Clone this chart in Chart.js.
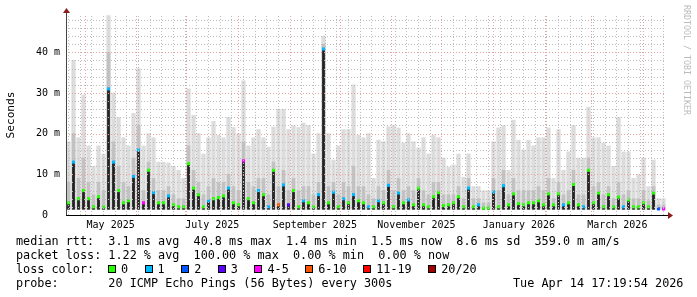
<!DOCTYPE html>
<html>
<head>
<meta charset="utf-8">
<script src="https://cdn.jsdelivr.net/npm/chart.js@4.4.1/dist/chart.umd.min.js"></script>
<style>
body { margin: 0; background: #fff; }
#wrap { position: relative; width: 697px; height: 297px; }
.leg { position: absolute; left: 16px; font-family: 'DejaVu Sans Mono', monospace; font-size: 11.8px; line-height: 14px; white-space: pre; color: #000; }
#lossRow { position: absolute; left: 108px; top: 262px; display: flex; align-items: center; height: 14px;
  font-family: 'DejaVu Sans Mono', monospace; font-size: 11.8px; white-space: pre; color: #000; }
#lossRow .box { width: 6px; height: 6px; border: 1px solid #000; margin-right: 5px; }
#lossRow .lab { margin-right: 16.5px; }
#mark { position: absolute; left: 682px; top: 5px; writing-mode: vertical-rl; font-family: 'DejaVu Sans Mono', monospace;
  font-size: 8.3px; line-height: 10px; color: #bbb; }
</style>
</head>
<body>
<div id="wrap">
  <canvas id="myChart" width="697" height="297"></canvas>
  <div class="leg" style="top:234px">median rtt:  3.1 ms avg  40.8 ms max  1.4 ms min  1.5 ms now  8.6 ms sd  359.0 m am/s</div>
  <div class="leg" style="top:248px">packet loss: 1.22 % avg  100.00 % max  0.00 % min  0.00 % now</div>
  <div class="leg" style="top:262px">loss color:</div>
  <div id="lossRow"></div>
  <div class="leg" style="top:276px">probe:       20 ICMP Echo Pings (56 Bytes) every 300s</div>
  <div class="leg" style="top:276px;left:513px">Tue Apr 14 17:19:54 2026</div>
  <div id="mark">RRDTOOL / TOBI OETIKER</div>
</div>
<script>
// 360 days, one bin = 3 days, values in ms
const START = Date.UTC(2025, 3, 19, 17, 19, 54);
const DAY = 86400000;
const SPAN_DAYS = 360;
const BIN_DAYS = 3;
const MIN_RTT = 1.4;

const maxRtt = [
  18, 38, 19, 29.5, 17, 12, 17, 15, 49, 30, 24, 19, 17, 25, 36, 17, 20, 19, 13,
  13, 12.8, 12, 11, 9, 31, 24.5, 20, 15, 19, 23, 19.6, 19, 24, 21.5, 20, 33, 17, 19, 21, 19,
  16.7, 21.6, 26, 26, 21, 22, 21.5, 22.6, 22, 15, 20, 44, 20, 13.5, 17, 21, 21, 32, 19.6, 19,
  20, 9, 18.4, 18, 21.7, 22, 21.4, 17.7, 20, 18, 16.5, 19, 15, 19.6, 19, 14, 11.8, 12.3, 15, 9.3,
  15, 7, 7, 6, 6, 18, 21.4, 22, 11, 23.3, 18.4, 16, 18.4, 17, 19, 19, 21.4, 9, 21, 11,
  15.5, 22, 14, 14, 26.5, 19, 19, 17.7, 17, 12, 24, 15.5, 15.5, 9, 10, 14, 7, 13.5, 4, 4
];
const midRtt = [
  8, 20, 9, 14, 8, 5, 8, 6, 40, 18, 12, 8, 7, 14, 22, 6, 13, 9, 6,
  6, 7, 5, 4, 4, 17, 11, 8, 5, 7, 9, 8, 8, 10, 7, 6, 18, 8, 7, 9, 9,
  5, 13, 7, 11, 6, 9, 6, 7, 7, 5, 8, 42, 7, 8, 5, 8, 7, 12, 7, 7,
  5, 4, 7, 6, 11, 6, 9, 6, 7, 6, 9, 6, 5, 8, 8, 5, 5, 5, 7, 4,
  9, 4, 4, 3, 3, 9, 6, 11, 5, 9, 6, 6, 6, 6, 7, 6, 9, 4, 8, 5,
  6, 11, 5, 5, 14, 7, 8, 5, 7, 4, 8, 5, 6, 4, 4, 6, 3.5, 7, 2.5, 2.5
];
const medianRtt = [
  3, 13, 4, 6, 4, 2, 4.5, 2, 31, 13, 6, 3, 3.5, 9.5, 16, 3, 11, 5.5, 3,
  3, 4.7, 2.5, 2, 2, 12.6, 6.6, 5, 2, 3.5, 4, 4.3, 4.7, 6.6, 3, 2.5, 13.3, 4, 3, 6, 5,
  2, 11, 2.5, 7.4, 2.5, 6, 2, 3.5, 3, 2, 5, 40.8, 3, 5.6, 2, 4, 3, 5, 3.5, 3,
  2, 2, 3.5, 3, 7.3, 2, 5.4, 3, 3.7, 2.5, 6.6, 2.5, 2, 4.5, 5.5, 2.3, 2.5, 3, 4.5, 2,
  6.6, 2, 2.5, 1.7, 1.7, 5.7, 2, 7.2, 2.5, 5.2, 2.8, 2.5, 3, 3, 3.5, 2.5, 5.2, 2.5, 5.2, 2.5,
  3, 7.5, 2.5, 2, 11, 3, 5.4, 2, 5, 2, 4.4, 2, 3.7, 2, 2, 3, 2, 5.4, 1.5, 1.5
];
// index into lossLabels / lossColors
const lossCode = [
  0, 1, 0, 0, 0, 0, 0, 0, 1, 1, 0, 0, 0, 1, 1, 4, 0, 1, 0,
  0, 1, 0, 0, 0, 0, 0, 0, 0, 1, 0, 0, 0, 1, 0, 0, 4, 0, 0, 1, 0,
  1, 0, 5, 1, 3, 0, 0, 1, 0, 0, 1, 1, 0, 1, 0, 1, 0, 1, 0, 0,
  1, 0, 1, 0, 1, 0, 1, 0, 1, 0, 0, 0, 0, 0, 0, 0, 0, 0, 0, 0,
  1, 0, 1, 0, 0, 1, 0, 1, 0, 0, 0, 0, 0, 0, 0, 0, 0, 0, 0, 1,
  0, 0, 0, 1, 0, 0, 0, 0, 0, 0, 0, 1, 0, 0, 0, 0, 0, 0, 2, 4
];
const lossLabels = ['0', '1', '2', '3', '4-5', '6-10', '11-19', '20/20'];
const lossColors = ['#26ff00', '#00b8ff', '#0059ff', '#5e00ff', '#ff00ff', '#ff5500', '#ff0000', '#a00000'];
const monthLabels = ['May 2025', 'July 2025', 'September 2025', 'November 2025', 'January 2026', 'March 2026'];
const yTickLabels = ['0  ', '10 m', '20 m', '30 m', '40 m'];

// loss colour legend
const row = document.getElementById('lossRow');
lossLabels.forEach((l, i) => {
    const b = document.createElement('span');
    b.className = 'box';
    b.style.background = lossColors[i];
    const t = document.createElement('span');
    t.className = 'lab';
    t.textContent = l;
    row.appendChild(b);
    row.appendChild(t);
});

const dayOf = t => (t - START) / DAY;
const binX = i => i * BIN_DAYS + BIN_DAYS / 2;

function xTicks() {
    const ticks = [];
    const months = [];
    for (let m = 0; m < 13; m++) {
        const v = dayOf(Date.UTC(2025, 4 + m, 1));
        if (v > 0 && v < SPAN_DAYS) months.push(v);
        ticks.push({value: v, kind: 'm'});
    }
    // mondays
    for (let v = dayOf(Date.UTC(2025, 3, 21)); v < SPAN_DAYS; v += 7) {
        if (!months.some(m => Math.abs(m - v) < 0.01)) ticks.push({value: v, kind: 'w'});
    }
    // labels in the middle of every other month
    monthLabels.forEach((txt, i) => {
        const a = dayOf(Date.UTC(2025, 4 + 2 * i, 1));
        const b = dayOf(Date.UTC(2025, 5 + 2 * i, 1));
        ticks.push({value: (a + b) / 2, kind: 'l', text: txt});
    });
    return ticks.filter(t => t.value >= 0 && t.value <= SPAN_DAYS).sort((p, q) => p.value - q.value);
}

const GRID_GRAY = '#bcbcbc';
const GRID_RED = '#e6a0a0';

// grid lines drawn over the smoke like rrdtool does
const rrdGrid = {
    id: 'rrdGrid',
    afterDatasetsDraw(chart) {
        const {ctx, chartArea: a, scales: {x, y}} = chart;
        const line = (x1, y1, x2, y2, color) => {
            ctx.strokeStyle = color;
            ctx.beginPath();
            ctx.moveTo(x1, y1);
            ctx.lineTo(x2, y2);
            ctx.stroke();
        };
        ctx.save();
        ctx.lineWidth = 1;
        ctx.setLineDash([1, 2]);
        ['w', 'm'].forEach(kind => x.ticks.forEach(t => {
            if (t.kind !== kind) return;
            const px = Math.round(x.getPixelForValue(t.value)) + 0.5;
            line(px, a.bottom, px, a.top, kind === 'm' ? GRID_RED : GRID_GRAY);
        }));
        y.ticks.forEach(t => {
            if (t.value === 0) return;
            const py = Math.round(y.getPixelForValue(t.value)) + 0.5;
            line(a.left, py, a.right, py, t.value % 10 === 0 ? GRID_RED : GRID_GRAY);
        });
        ctx.restore();
    }
};

const axisArrows = {
    id: 'axisArrows',
    afterDraw(chart) {
        const {ctx, chartArea: a} = chart;
        ctx.save();
        ctx.lineWidth = 1;
        ctx.strokeStyle = '#444';
        ctx.beginPath();
        ctx.moveTo(a.left + 0.5, a.bottom);
        ctx.lineTo(a.left + 0.5, a.top - 4);
        ctx.stroke();
        ctx.strokeStyle = '#000';
        ctx.beginPath();
        ctx.moveTo(a.left, a.bottom + 0.5);
        ctx.lineTo(a.right + 3, a.bottom + 0.5);
        ctx.stroke();
        ctx.fillStyle = '#8b1c1c';
        ctx.beginPath();
        ctx.moveTo(a.left + 0.5, a.top - 7);
        ctx.lineTo(a.left - 3, a.top - 2);
        ctx.lineTo(a.left + 4, a.top - 2);
        ctx.fill();
        ctx.beginPath();
        ctx.moveTo(a.right + 7, a.bottom + 0.5);
        ctx.lineTo(a.right + 2, a.bottom - 3);
        ctx.lineTo(a.right + 2, a.bottom + 4);
        ctx.fill();
        ctx.restore();
    }
};

Chart.defaults.font.family = "'DejaVu Sans Mono', monospace";
Chart.defaults.color = '#000';

const ctx = document.getElementById('myChart').getContext('2d');
const myChart = new Chart(ctx, {
    type: 'bar',
    data: {
        datasets: [{
            label: 'max',
            data: maxRtt.map((v, i) => ({x: binX(i), y: [MIN_RTT, v]})),
            backgroundColor: '#dcdcdc',
            grouped: false,
            barThickness: 3.6,
            order: 4
        }, {
            label: 'smoke',
            data: midRtt.map((v, i) => ({x: binX(i), y: [MIN_RTT, v]})),
            backgroundColor: '#c2c2c2',
            grouped: false,
            barThickness: 3,
            order: 3
        }, {
            label: 'median bar',
            data: medianRtt.map((v, i) => ({x: binX(i), y: [MIN_RTT, v]})),
            backgroundColor: '#222',
            grouped: false,
            barThickness: 2.1,
            order: 2
        }, {
            type: 'line',
            label: 'median rtt',
            data: medianRtt.map((v, i) => ({x: binX(i), y: v})),
            showLine: false,
            pointStyle: 'rect',
            pointRadius: 2.2,
            pointBorderWidth: 0,
            pointBackgroundColor: lossCode.map(c => lossColors[c]),
            order: 1
        }]
    },
    options: {
        responsive: false,
        animation: false,
        devicePixelRatio: 1,
        layout: {padding: {top: 15, right: 31, left: 0, bottom: 0}},
        plugins: {legend: {display: false}, tooltip: {enabled: false}},
        scales: {
            x: {
                type: 'linear',
                min: 0,
                max: SPAN_DAYS,
                offset: false,
                afterBuildTicks: s => { s.ticks = xTicks(); },
                afterFit: s => { s.height = 82; },
                border: {display: false},
                grid: {display: false, drawTicks: false},
                ticks: {
                    autoSkip: false,
                    maxRotation: 0,
                    padding: 4,
                    font: {size: 10},
                    // empty string (not null) keeps the tick for the grid plugin
                    callback: (v, i, ticks) => ticks[i] && ticks[i].kind === 'l' ? ticks[i].text : ''
                }
            },
            y: {
                min: 0,
                max: 49.15,
                afterBuildTicks: s => {
                    const t = [];
                    for (let v = 0; v <= 48; v += 2) t.push({value: v});
                    s.ticks = t;
                },
                afterFit: s => { s.width = 66; },
                border: {display: false},
                grid: {display: false, drawTicks: false},
                ticks: {
                    autoSkip: false,
                    padding: 6,
                    font: {size: 10},
                    callback: v => v % 10 === 0 ? yTickLabels[v / 10] : ''
                },
                title: {
                    display: true,
                    text: 'Seconds',
                    font: {size: 11.2},
                    padding: {top: 4, bottom: 0}
                }
            }
        }
    },
    plugins: [rrdGrid, axisArrows]
});
</script>
</body>
</html>
